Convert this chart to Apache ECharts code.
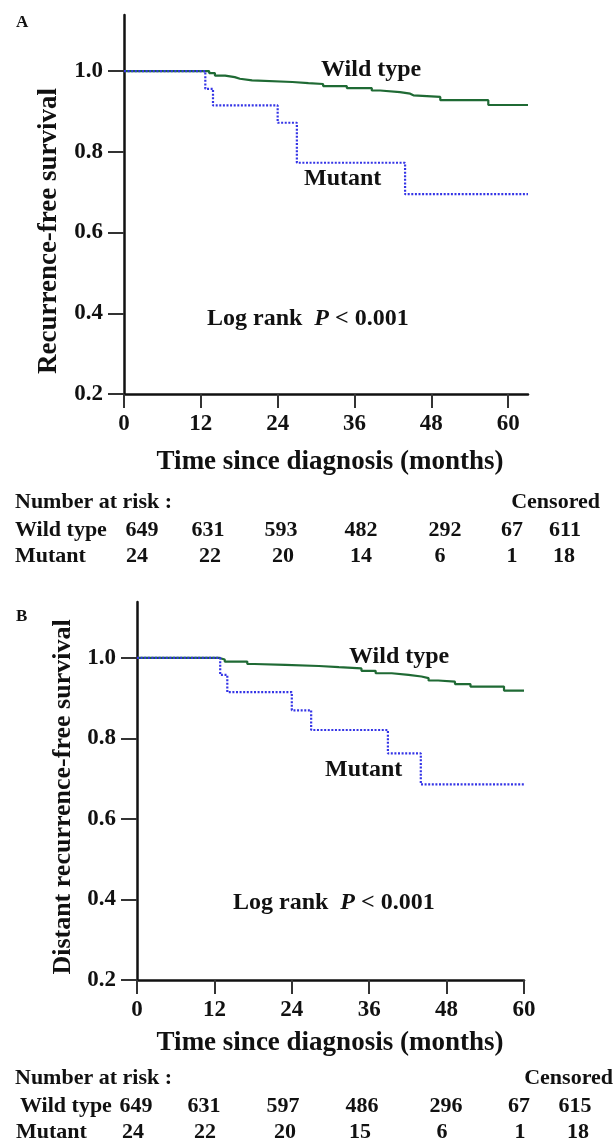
<!DOCTYPE html>
<html>
<head>
<meta charset="utf-8">
<script src="https://cdn.jsdelivr.net/npm/echarts@6/dist/echarts.min.js"></script>
<style>
html,body{margin:0;padding:0;background:#fff;}
#c{width:616px;height:1141px;}
</style>
</head>
<body>
<div id="c"></div>
<script>
// ---- data ----
const monthTicks = [0, 12, 24, 36, 48, 60];
const survTicks = [0.2, 0.4, 0.6, 0.8, 1.0];

// Panel A: recurrence-free survival [month, survival]
const wildA = [[0,1],[12.7,1],[13.3,0.995],[14.2,0.989],[15.8,0.985],[17.3,0.981],[18.1,0.977],[20,0.973],[26.3,0.970],[28.8,0.968],[31.1,0.963],[34.8,0.958],[38.7,0.952],[40,0.948],[43.1,0.944],[44.7,0.940],[45.2,0.936],[49.4,0.928],[56.9,0.916],[63.1,0.916]];
const mutA = [[0,1],[12.7,0.956],[13.9,0.915],[24.0,0.872],[27.0,0.773],[43.9,0.695],[63.1,0.695]];

// Panel B: distant recurrence-free survival
const wildB = [[0,1],[12.8,0.996],[13.6,0.991],[17.1,0.985],[18.2,0.983],[23,0.980],[28.2,0.977],[31.3,0.974],[34.8,0.968],[37,0.962],[39.5,0.958],[42.1,0.954],[44.1,0.950],[45.2,0.944],[46.7,0.941],[49.3,0.935],[51.7,0.929],[56.9,0.919],[60,0.919]];
const mutB = [[0,1],[12.9,0.958],[14.0,0.915],[24.0,0.870],[27.0,0.821],[38.9,0.763],[44.0,0.686],[60,0.686]];

// Number at risk tables
const riskHeader = 'Number at risk :';
const censoredHeader = 'Censored';
const groupNames = ['Wild type', 'Mutant'];
const riskWildA = ['649','631','593','482','292','67','611'];
const riskMutA  = ['24','22','20','14','6','1','18'];
const riskWildB = ['649','631','597','486','296','67','615'];
const riskMutB  = ['24','22','20','15','6','1','18'];

// ---- layout ----
const FONT = '"Liberation Serif", "Times New Roman", serif';
const GREEN = '#1f6a34';
const BLUE = '#3434e6';
const colsWildA = [142,208,281,361,445,512,565];
const colsMutA  = [137,210,283,361,440,512,564];
const colsWildB = [136,204,283,362,446,519,575];
const colsMutB  = [133,205,285,360,442,520,578];

function xAx(gi, max) {
  return {
    type: 'value', gridIndex: gi, min: 0, max: max, interval: 12,
    axisLine: {show: true, onZero: false, lineStyle: {color: '#111', width: 2.5}},
    axisTick: {show: true, customValues: monthTicks, length: 14, lineStyle: {color: '#333', width: 2}},
    axisLabel: {customValues: monthTicks, margin: 19, fontFamily: FONT, fontWeight: 'bold', fontSize: 23, color: '#111'},
    splitLine: {show: false}
  };
}
function yAx(gi) {
  return {
    type: 'value', gridIndex: gi, min: 0.2, max: 1.139, interval: 0.2,
    axisLine: {show: true, onZero: false, lineStyle: {color: '#111', width: 2.5}},
    axisTick: {show: true, customValues: survTicks, length: 16, lineStyle: {color: '#333', width: 2}},
    axisLabel: {customValues: survTicks, margin: 21, fontFamily: FONT, fontWeight: 'bold', fontSize: 23, color: '#111',
      formatter: v => v.toFixed(1)},
    splitLine: {show: false}
  };
}
function kmLine(gi, data, color, dotted) {
  return {
    type: 'line', xAxisIndex: gi, yAxisIndex: gi, data: data, step: 'end',
    showSymbol: false, symbol: 'none', silent: true,
    lineStyle: {color: color, width: dotted ? 2.2 : 2.2, type: dotted ? [2, 1.6] : 'solid'},
    z: dotted ? 3 : 2
  };
}

function txt(x, y, text, size, opts) {
  opts = opts || {};
  return {
    type: 'text', x: x, y: y, rotation: opts.rot || 0, silent: true,
    style: {text: text, fill: '#111', font: (opts.italic ? 'italic ' : '') + 'bold ' + size + 'px ' + FONT,
      align: opts.align || 'left', verticalAlign: 'middle'}
  };
}
function logRank(x, y) {
  return {
    type: 'text', x: x, y: y, silent: true,
    style: {
      text: '{a|Log rank  }{p|P}{a| < 0.001}',
      verticalAlign: 'middle', align: 'left',
      rich: {
        a: {fontFamily: FONT, fontWeight: 'bold', fontSize: 24, fill: '#111'},
        p: {fontFamily: FONT, fontStyle: 'italic', fontWeight: 'bold', fontSize: 24, fill: '#111'}
      }
    }
  };
}
function table(yHead, yRow1, yRow2, xName1, xName2, cens, row1, row2, cols1, cols2) {
  const out = [];
  out.push(txt(15, yHead, riskHeader, 22));
  out.push(txt(cens, yHead, censoredHeader, 22, {align: 'right'}));
  out.push(txt(xName1, yRow1, groupNames[0], 22));
  out.push(txt(xName2, yRow2, groupNames[1], 22));
  row1.forEach((v, i) => out.push(txt(cols1[i], yRow1, v, 22, {align: 'center'})));
  row2.forEach((v, i) => out.push(txt(cols2[i], yRow2, v, 22, {align: 'center'})));
  return out;
}

const graphics = [].concat(
  [
    txt(16, 23, 'A', 17),
    txt(49, 231, 'Recurrence-free survival', 27, {rot: Math.PI / 2, align: 'center'}),
    txt(321, 70, 'Wild type', 24),
    txt(304, 179, 'Mutant', 24),
    logRank(207, 319),
    txt(330, 462, 'Time since diagnosis (months)', 27, {align: 'center'}),
    txt(16, 617, 'B', 17),
    txt(63, 797, 'Distant recurrence-free survival', 26, {rot: Math.PI / 2, align: 'center'}),
    txt(349, 657, 'Wild type', 24),
    txt(325, 770, 'Mutant', 24),
    logRank(233, 903),
    txt(330, 1043, 'Time since diagnosis (months)', 27, {align: 'center'})
  ],
  table(502, 530, 556, 15, 15, 600, riskWildA, riskMutA, colsWildA, colsMutA),
  table(1078, 1106, 1132, 20, 16, 613, riskWildB, riskMutB, colsWildB, colsMutB)
);

const chart = echarts.init(document.getElementById('c'), null, {renderer: 'canvas'});
chart.setOption({
  animation: false,
  backgroundColor: '#fff',
  grid: [
    {left: 124, right: 88, top: 15, bottom: 747, containLabel: false},
    {left: 137, right: 92, top: 602, bottom: 161, containLabel: false}
  ],
  xAxis: [xAx(0, 63.1), xAx(1, 60)],
  yAxis: [yAx(0), yAx(1)],
  series: [
    kmLine(0, wildA, GREEN, false),
    kmLine(0, mutA, BLUE, true),
    kmLine(1, wildB, GREEN, false),
    kmLine(1, mutB, BLUE, true)
  ],
  graphic: graphics
});
</script>
</body>
</html>
